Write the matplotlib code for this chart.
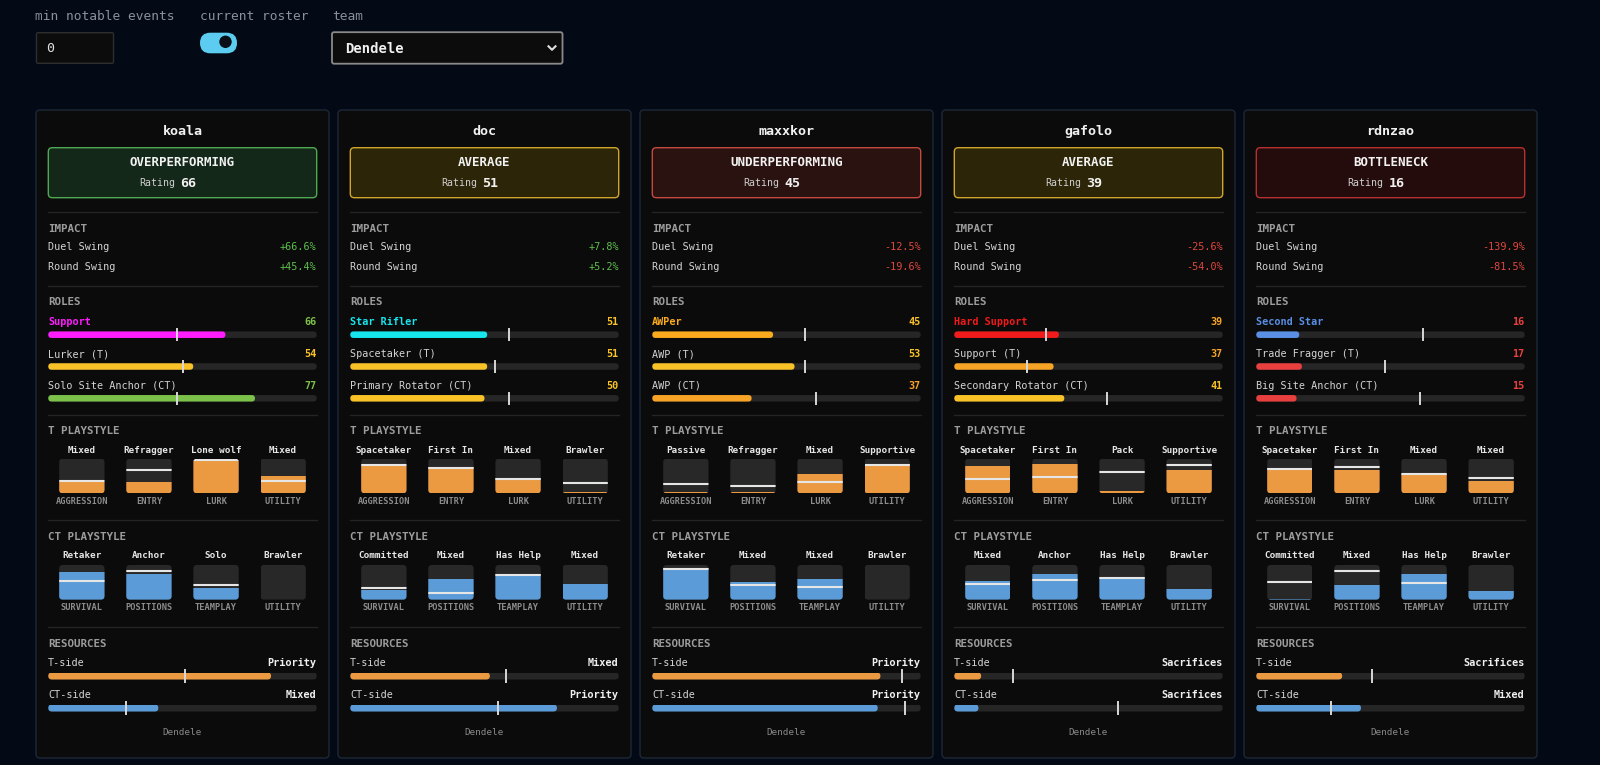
import matplotlib
matplotlib.use("Agg")
import matplotlib.pyplot as plt
from matplotlib.patches import FancyBboxPatch, Circle

# ---- data ----
players = ["koala", "doc", "maxxkor", "gafolo", "rdnzao"]
status = ["OVERPERFORMING", "AVERAGE", "UNDERPERFORMING", "AVERAGE", "BOTTLENECK"]
ratings = [66, 51, 45, 39, 16]
duel_swing = [66.6, 7.8, -12.5, -25.6, -139.9]
round_swing = [45.4, 5.2, -19.6, -54.0, -81.5]

primary_roles = ["Support", "Star Rifler", "AWPer", "Hard Support", "Second Star"]
primary_colors = ["#ff1cff", "#16e6ee", "#fbab1c", "#f21a1a", "#5a8fe6"]
t_roles = ["Lurker (T)", "Spacetaker (T)", "AWP (T)", "Support (T)", "Trade Fragger (T)"]
ct_roles = ["Solo Site Anchor (CT)", "Primary Rotator (CT)", "AWP (CT)",
            "Secondary Rotator (CT)", "Big Site Anchor (CT)"]
role_scores = [[66, 54, 77], [51, 51, 50], [45, 53, 37], [39, 37, 41], [16, 17, 15]]
role_marks = [[48, 50, 48], [59, 54, 59], [57, 57, 61], [34, 27, 57], [62, 48, 61]]

t_axes = ["AGGRESSION", "ENTRY", "LURK", "UTILITY"]
t_tags = [["Mixed", "Refragger", "Lone wolf", "Mixed"],
          ["Spacetaker", "First In", "Mixed", "Brawler"],
          ["Passive", "Refragger", "Mixed", "Supportive"],
          ["Spacetaker", "First In", "Pack", "Supportive"],
          ["Spacetaker", "First In", "Mixed", "Mixed"]]
t_fill = [[34, 34, 96, 50], [80, 76, 43, 5], [3, 3, 55, 84], [78, 84, 7, 67], [72, 67, 57, 35]]
t_mark = [[36, 68, 95, 36], [81, 73, 41, 29], [26, 20, 33, 81], [41, 48, 62, 83], [70, 75, 55, 45]]

ct_axes = ["SURVIVAL", "POSITIONS", "TEAMPLAY", "UTILITY"]
ct_tags = [["Retaker", "Anchor", "Solo", "Brawler"],
           ["Committed", "Mixed", "Has Help", "Mixed"],
           ["Retaker", "Mixed", "Mixed", "Brawler"],
           ["Mixed", "Anchor", "Has Help", "Brawler"],
           ["Committed", "Mixed", "Has Help", "Brawler"]]
ct_fill = [[80, 74, 34, 0], [29, 59, 73, 46], [90, 51, 59, 0], [55, 73, 66, 32], [2, 41, 75, 26]]
ct_mark = [[53, 83, 42, None], [33, 20, 71, None], [87, 41, 36, None],
           [46, 56, 62, None], [51, 82, 48, None]]

res_t_label = ["Priority", "Mixed", "Priority", "Sacrifices", "Sacrifices"]
res_ct_label = ["Mixed", "Priority", "Priority", "Sacrifices", "Mixed"]
res_t = [83, 52, 85, 10, 32]
res_t_mark = [51, 58, 93, 22, 43]
res_ct = [41, 77, 84, 9, 39]
res_ct_mark = [29, 55, 94, 61, 28]

team = "Dendele"

# ---- style ----
FW, FH = 1600, 765
BG = "#030a16"
CARD_BG = "#0b0b0b"
CARD_EDGE = "#1d2838"
SEP = "#242424"
TRACK = "#262626"
MARK = "#d8d8d8"
T_COL = "#eb9a42"
CT_COL = "#5b9bd8"
FONT = "DejaVu Sans Mono"

status_style = {
    "OVERPERFORMING": ("#14281a", "#4fa852"),
    "AVERAGE": ("#2d2508", "#cfa52b"),
    "UNDERPERFORMING": ("#2a1210", "#c4493f"),
    "BOTTLENECK": ("#250c0c", "#b63030"),
}


def score_color(v):
    if v >= 60:
        return "#7cc24a"
    if v >= 40:
        return "#f9c226"
    if v >= 20:
        return "#f7a326"
    return "#ea3f3f"


plt.rcParams["font.family"] = [FONT, "DejaVu Sans"]
fig = plt.figure(figsize=(FW / 100, FH / 100), dpi=100, facecolor=BG)
ax = fig.add_axes([0, 0, 1, 1])
ax.set_xlim(0, FW)
ax.set_ylim(FH, 0)
ax.set_axis_off()


def txt(x, y, s, size, color, ha="left", weight="normal"):
    ax.text(x, y, s, fontsize=size, color=color, ha=ha, va="center", fontweight=weight)


def rbox(x, y, w, h, r, fc, ec="none", lw=1.0):
    p = FancyBboxPatch((x, y), w, h, boxstyle=f"round,pad=0,rounding_size={r}",
                       fc=fc, ec=ec, lw=lw)
    ax.add_patch(p)
    return p


def hbar(x, yc, w, h, value, color, mark):
    a = fig.add_axes([x / FW, 1 - (yc + h / 2) / FH, w / FW, h / FH])
    a.set_axis_off()
    rx = (h / 2) / (w / 100)
    style = f"round,pad=0,rounding_size={rx}"
    a.add_patch(FancyBboxPatch((0, 0), 100, 1, boxstyle=style, mutation_aspect=0.5 / rx,
                               fc=TRACK, ec="none"))
    a.add_patch(FancyBboxPatch((0, 0), value, 1, boxstyle=style, mutation_aspect=0.5 / rx,
                               fc=color, ec="none"))
    a.plot([mark, mark], [-0.35, 1.35], color=MARK, lw=1.4, clip_on=False)
    a.set_xlim(0, 100)
    a.set_ylim(0, 1)


def vbox(xc, ytop, w, h, value, color, mark):
    a = fig.add_axes([(xc - w / 2) / FW, 1 - (ytop + h) / FH, w / FW, h / FH])
    a.set_axis_off()
    r = 3.5
    rx, ry = r / w, r / h * 100
    bg = FancyBboxPatch((0, 0), 1, 100, boxstyle=f"round,pad=0,rounding_size={rx}",
                        mutation_aspect=ry / rx, fc="#282828", ec="none")
    a.add_patch(bg)
    for b in a.bar(0.5, value, width=1, color=color):
        b.set_clip_path(bg)
    if mark is not None:
        ln = a.axhline(mark, color="#e6e6e6", lw=1.5)
        ln.set_clip_path(bg)
    a.set_xlim(0, 1)
    a.set_ylim(0, 100)


# ---- controls ----
txt(35, 16, "min notable events", 9.3, "#8b9099")
txt(200, 16, "current roster", 9.3, "#8b9099")
txt(332, 16, "team", 9.3, "#8b9099")
rbox(36.5, 32.7, 77, 30.6, 1.5, "#0c0c0c", "#2e2e2e")
txt(46, 48.3, "0", 9.5, "#e0e0e0")
rbox(200, 32.7, 37, 20.6, 10.3, "#5ccdf0")
ax.add_patch(Circle((225.5, 41.8), 6.2, fc="#0a0f18", ec="none"))
rbox(332, 32.2, 230.5, 31.5, 2, "#0c0c0c", "#8a8a8a", 1.3)
txt(345, 48.5, team, 10, "#f0f0f0", weight="bold")
ax.plot([548.5, 552, 555.5], [46.3, 49.8, 46.3], color="#e0e0e0", lw=1.5)

# ---- cards ----
CARD_X0, CARD_DX, CARD_W = 36, 302, 293
PAD = 12.3
CW = 268.4
col_w = CW / 4
BW, BH = 45.3, 34.6

for i, name in enumerate(players):
    cx = CARD_X0 + i * CARD_DX
    x0 = cx + PAD
    x1 = x0 + CW
    rbox(cx, 110, CARD_W, 648, 4, CARD_BG, CARD_EDGE, 1.0)

    txt(cx + CARD_W / 2, 131.7, name, 9.6, "#f2f2f2", ha="center", weight="bold")
    sfc, sec = status_style[status[i]]
    rbox(x0, 147.7, CW, 50, 4, sfc, sec, 1.0)
    txt(cx + CARD_W / 2, 162.3, status[i], 9, "#f2f2f2", ha="center", weight="bold")
    ax.text(cx + CARD_W / 2 - 7, 183.3, "Rating", fontsize=7.1, color="#cfcfcf",
            ha="right", va="center")
    ax.text(cx + CARD_W / 2 - 2, 183.3, str(ratings[i]), fontsize=9.6, color="#f2f2f2",
            ha="left", va="center", fontweight="bold")

    for ysep in (212.3, 285.7, 415, 520.3, 626.7):
        ax.plot([x0, x1], [ysep, ysep], color=SEP, lw=1)

    # impact
    txt(x0, 228.7, "IMPACT", 7.8, "#9c9c9c", weight="bold")
    for yy, lab, v in ((247.3, "Duel Swing", duel_swing[i]), (267.3, "Round Swing", round_swing[i])):
        txt(x0, yy, lab, 7.3, "#d4d4d4")
        col = "#5cc04a" if v >= 0 else "#e0473e"
        txt(x1, yy, f"{v:+.1f}%", 7.3, col, ha="right")

    # roles
    txt(x0, 301.7, "ROLES", 7.8, "#9c9c9c", weight="bold")
    labels = [primary_roles[i], t_roles[i], ct_roles[i]]
    for k in range(3):
        ly = 322.3 + k * 31.7
        by = 334.7 + k * 31.8
        sc = role_scores[i][k]
        if k == 0:
            txt(x0, ly, labels[k], 7.3, primary_colors[i], weight="bold")
            bcol = primary_colors[i]
        else:
            txt(x0, ly, labels[k], 7.3, "#d4d4d4")
            bcol = score_color(sc)
        txt(x1, ly, str(sc), 7.3, score_color(sc), ha="right", weight="bold")
        hbar(x0, by, CW, 6.5, sc, bcol, role_marks[i][k])

    # T playstyle
    txt(x0, 431, "T PLAYSTYLE", 7.8, "#9c9c9c", weight="bold")
    for j in range(4):
        xc = x0 + (j + 0.5) * col_w
        txt(xc, 450, t_tags[i][j], 6.7, "#e6e6e6", ha="center", weight="bold")
        vbox(xc, 458.7, BW, BH, t_fill[i][j], T_COL, t_mark[i][j])
        txt(xc, 501, t_axes[j], 6.2, "#8c8c8c", ha="center", weight="bold")

    # CT playstyle
    txt(x0, 537, "CT PLAYSTYLE", 7.8, "#9c9c9c", weight="bold")
    for j in range(4):
        xc = x0 + (j + 0.5) * col_w
        txt(xc, 555.7, ct_tags[i][j], 6.7, "#e6e6e6", ha="center", weight="bold")
        vbox(xc, 565, BW, BH, ct_fill[i][j], CT_COL, ct_mark[i][j])
        txt(xc, 607.3, ct_axes[j], 6.2, "#8c8c8c", ha="center", weight="bold")

    # resources
    txt(x0, 644, "RESOURCES", 7.8, "#9c9c9c", weight="bold")
    txt(x0, 663.3, "T-side", 7.3, "#d4d4d4")
    txt(x1, 663.3, res_t_label[i], 7.4, "#f0f0f0", ha="right", weight="bold")
    hbar(x0, 676, CW, 7, res_t[i], T_COL, res_t_mark[i])
    txt(x0, 695.3, "CT-side", 7.3, "#d4d4d4")
    txt(x1, 695.3, res_ct_label[i], 7.4, "#f0f0f0", ha="right", weight="bold")
    hbar(x0, 708, CW, 7, res_ct[i], CT_COL, res_ct_mark[i])

    txt(cx + CARD_W / 2, 732.7, team, 6.7, "#8a8a8a", ha="center")

fig.savefig("out.png", dpi=100, facecolor=BG)
